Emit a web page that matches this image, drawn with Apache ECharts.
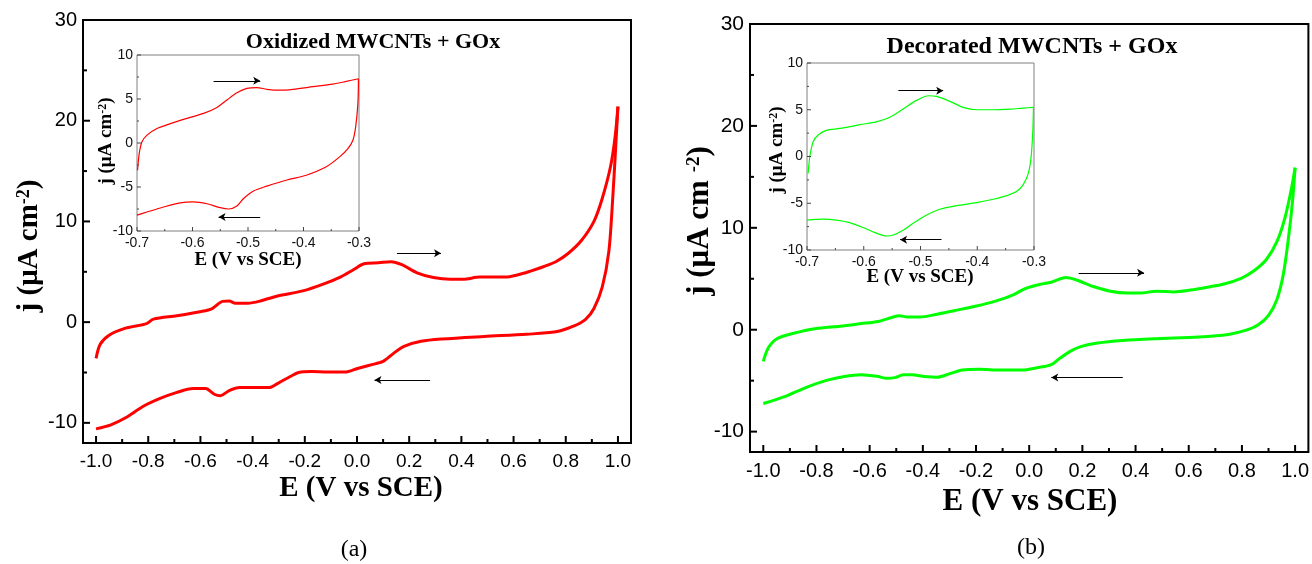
<!DOCTYPE html>
<html>
<head>
<meta charset="utf-8">
<script src="https://cdn.jsdelivr.net/npm/echarts@6/dist/echarts.min.js"></script>
<style>
html,body{margin:0;padding:0;background:#fff;}
#c{width:1312px;height:564px;}
</style>
</head>
<body>
<div id="c"></div>
<script>
// ---------- tick labels / tick positions ----------
const mainXTicks = [-1.0,-0.8,-0.6,-0.4,-0.2,0.0,0.2,0.4,0.6,0.8,1.0];
const mainXMinor = [-0.9,-0.7,-0.5,-0.3,-0.1,0.1,0.3,0.5,0.7,0.9];
const mainYTicks = [-10,0,10,20,30];
const mainYMinor = [-5,5,15,25];
const insetXTicks = [-0.7,-0.6,-0.5,-0.4,-0.3];
const insetXMinor = [-0.65,-0.55,-0.45,-0.35];
const insetYTicks = [-10,-5,0,5,10];
const insetYMinor = [-7.5,-2.5,2.5,7.5];

// ---------- (a) Oxidized MWCNTs + GOx, main ----------
const aFwdE = [-1.0,-0.984,-0.95,-0.887,-0.806,-0.78,-0.69,-0.596,-0.555,-0.515,-0.49,-0.466,-0.418,-0.37,-0.305,-0.208,-0.127,-0.062,-0.014,0.027,0.083,0.13,0.172,0.23,0.293,0.358,0.407,0.47,0.568,0.617,0.665,0.714,0.762,0.81,0.86,0.908,0.94,0.972,0.989,1.0];
const aFwdJ = [-3.6,-2.2,-1.3,-0.6,-0.14,0.3,0.64,1.06,1.35,2.06,2.1,1.88,1.88,2.1,2.6,3.1,3.8,4.5,5.2,5.8,5.9,6.0,5.7,4.9,4.43,4.26,4.26,4.47,4.47,4.7,5.07,5.5,6.0,6.84,8.1,10.0,12.3,15.5,18.4,21.4];
const aRevE = [1.0,0.992,0.98,0.965,0.94,0.908,0.876,0.827,0.762,0.65,0.487,0.326,0.245,0.18,0.14,0.1,0.051,0.002,-0.046,-0.11,-0.175,-0.224,-0.256,-0.305,-0.337,-0.386,-0.45,-0.49,-0.523,-0.547,-0.58,-0.628,-0.693,-0.757,-0.822,-0.887,-0.943,-1.0];
const aRevJ = [21.4,17.7,12.3,7.0,3.5,1.35,0.28,-0.43,-0.96,-1.2,-1.42,-1.67,-1.9,-2.4,-3.1,-3.9,-4.26,-4.6,-4.96,-4.96,-4.9,-5.0,-5.4,-6.1,-6.5,-6.5,-6.5,-6.8,-7.3,-7.16,-6.6,-6.6,-7.0,-7.6,-8.4,-9.5,-10.2,-10.6];

// ---------- (b) Decorated MWCNTs + GOx, main ----------
const bFwdE = [-1.0,-0.981,-0.949,-0.886,-0.806,-0.711,-0.632,-0.568,-0.52,-0.489,-0.457,-0.41,-0.346,-0.283,-0.203,-0.124,-0.06,-0.013,0.035,0.083,0.138,0.178,0.241,0.305,0.368,0.416,0.479,0.543,0.606,0.67,0.733,0.797,0.844,0.892,0.932,0.963,0.987,1.0];
const bFwdJ = [-3.1,-1.77,-0.88,-0.35,0.1,0.35,0.6,0.81,1.17,1.38,1.24,1.24,1.52,1.87,2.3,2.83,3.43,4.06,4.42,4.66,5.12,4.88,4.24,3.78,3.6,3.6,3.78,3.71,3.89,4.17,4.49,5.05,5.76,6.89,8.66,11.1,13.96,15.9];
const bRevE = [1.0,0.99,0.975,0.956,0.932,0.9,0.86,0.813,0.749,0.638,0.479,0.352,0.257,0.194,0.154,0.114,0.083,0.035,-0.029,-0.108,-0.187,-0.251,-0.298,-0.346,-0.394,-0.441,-0.473,-0.505,-0.537,-0.568,-0.632,-0.695,-0.759,-0.838,-0.917,-1.0];
const bRevJ = [15.9,12.5,9.0,5.48,3.0,1.41,0.46,-0.07,-0.46,-0.71,-0.88,-1.06,-1.31,-1.66,-2.12,-2.83,-3.43,-3.71,-3.96,-3.96,-3.89,-3.96,-4.31,-4.66,-4.59,-4.42,-4.42,-4.7,-4.77,-4.59,-4.42,-4.59,-4.95,-5.65,-6.54,-7.24];

// ---------- insets ----------
const iaFwdE = [-0.699,-0.696,-0.691,-0.682,-0.664,-0.64,-0.61,-0.58,-0.556,-0.538,-0.52,-0.502,-0.484,-0.466,-0.443,-0.419,-0.383,-0.347,-0.323,-0.301];
const iaFwdJ = [-3.1,-1.2,0.13,0.9,1.65,2.2,2.8,3.36,4.04,4.88,5.7,6.2,6.3,6.1,6.0,6.1,6.4,6.7,7.0,7.3];
const iaRevE = [-0.301,-0.302,-0.306,-0.311,-0.32,-0.335,-0.359,-0.395,-0.43,-0.466,-0.49,-0.508,-0.52,-0.535,-0.55,-0.574,-0.599,-0.622,-0.652,-0.682,-0.7];
const iaRevJ = [7.3,4.5,1.84,0.32,-0.63,-1.58,-2.7,-3.66,-4.2,-4.9,-5.45,-6.3,-7.15,-7.5,-7.35,-6.9,-6.7,-6.8,-7.27,-7.84,-8.2];
const ibFwdE = [-0.698,-0.695,-0.689,-0.68,-0.666,-0.642,-0.607,-0.578,-0.554,-0.53,-0.507,-0.486,-0.472,-0.448,-0.425,-0.401,-0.372,-0.342,-0.319,-0.301];
const ibFwdJ = [-1.8,0,1.6,2.32,2.8,3.0,3.4,3.7,4.2,5.1,6.0,6.5,6.43,5.9,5.25,5.0,5.0,5.07,5.18,5.25];
const ibRevE = [-0.301,-0.302,-0.305,-0.31,-0.319,-0.331,-0.348,-0.372,-0.401,-0.436,-0.466,-0.489,-0.513,-0.53,-0.548,-0.56,-0.578,-0.601,-0.625,-0.648,-0.672,-0.7];
const ibRevJ = [5.25,2.86,0,-1.8,-3.0,-3.75,-4.18,-4.57,-4.93,-5.25,-5.64,-6.25,-7.14,-7.86,-8.4,-8.5,-8.2,-7.6,-7.07,-6.8,-6.7,-6.8];

// ---------- scan-direction arrows [x1, x2, y] ----------
const aArrows = [[0.153,0.322,6.84],[0.28,0.067,-5.74]];
const bArrows = [[0.186,0.432,5.58],[0.352,0.083,-4.7]];
const iaArrows = [[-0.562,-0.478,7.07],[-0.478,-0.553,-8.4]];
const ibArrows = [[-0.539,-0.46,7.04],[-0.463,-0.536,-8.9]];

const titles = ['Oxidized MWCNTs + GOx','Decorated MWCNTs + GOx'];
const captions = ['(a)','(b)'];

const zip = (xs, ys) => xs.map((x,i)=>[x, ys[i]]);
const SANS = 'Liberation Sans, Arial, sans-serif';
const SERIF = 'Liberation Serif, Times New Roman, serif';

const MAIN_X = [-1.05, 1.05], MAIN_Y = [-12, 30];
const INSET_X = [-0.7, -0.3], INSET_Y = [-10, 10];

function mainX(grid){
  return {
    type:'value', gridIndex:grid, min:MAIN_X[0], max:MAIN_X[1],
    axisLine:{show:false, onZero:false}, splitLine:{show:false}, axisTick:{show:false},
    axisLabel:{customValues:mainXTicks, formatter:v=>v.toFixed(1), color:'#000', fontFamily:SANS, fontSize:grid===0?19:20, margin:9}
  };
}
function mainY(grid){
  return {
    type:'value', gridIndex:grid, min:MAIN_Y[0], max:MAIN_Y[1],
    axisLine:{show:false, onZero:false}, splitLine:{show:false}, axisTick:{show:false},
    axisLabel:{customValues:mainYTicks, color:'#000', fontFamily:SANS, fontSize:grid===0?20:21, margin:6}
  };
}
function insetX(grid){
  return {
    type:'value', gridIndex:grid, min:INSET_X[0], max:INSET_X[1], interval:0.1,
    axisLine:{show:false, onZero:false}, splitLine:{show:false}, axisTick:{show:false},
    axisLabel:{color:'#111', fontFamily:SANS, fontSize:14, margin:5, formatter:v=>v.toFixed(1)}
  };
}
function insetY(grid){
  return {
    type:'value', gridIndex:grid, min:INSET_Y[0], max:INSET_Y[1], interval:5,
    axisLine:{show:false, onZero:false}, splitLine:{show:false}, axisTick:{show:false},
    axisLabel:{color:'#111', fontFamily:SANS, fontSize:14, margin:4}
  };
}
function curve(ai, xs, ys, color, w){
  return {type:'line', xAxisIndex:ai, yAxisIndex:ai, data:zip(xs,ys), showSymbol:false,
    smooth:0.3, lineStyle:{color:color, width:w}, clip:false, silent:true};
}
function arrows(ai, arr){
  return {type:'line', xAxisIndex:ai, yAxisIndex:ai, data:[], silent:true,
    markLine:{silent:true, symbol:['none','arrow'], symbolSize:[6,7], label:{show:false},
      lineStyle:{color:'#000', width:1, type:'solid'}, animation:false,
      data: arr.map(a=>[{coord:[a[0],a[2]]},{coord:[a[1],a[2]]}])}};
}
function txt(x, y, text, font, rot, rich){
  const el = {type:'text', x:x, y:y, rotation:rot||0, z:100,
    style:{text:text, font:font, fill:'#000', align:'center', verticalAlign:'middle'}};
  if (rich) el.style.rich = rich;
  return el;
}
function yTitleRich(size, supSize){
  return {m:{fontFamily:SERIF, fontWeight:'bold', fontSize:size, fill:'#000'},
          s:{fontFamily:SERIF, fontWeight:'bold', fontSize:supSize, fill:'#000', verticalAlign:'top'}};
}

const RED = '#ff0000', GREEN = '#00ff00';
const rectGrid = (l,t,w,h, color, bw) => ({left:l, top:t, width:w, height:h, show:true, borderColor:color, borderWidth:bw});

const texts = [
  txt(373, 42, titles[0], 'bold 22px '+SERIF),
  txt(1032, 47, titles[1], 'bold 24px '+SERIF),
  txt(361, 489, 'E (V vs SCE)', 'bold 29px '+SERIF),
  txt(1030, 502, 'E (V vs SCE)', 'bold 31px '+SERIF),
  txt(30, 246, '{m|j (μA cm}{s|-2}{m|)}', 'bold 29px '+SERIF, Math.PI/2, yTitleRich(29,18)),
  txt(700, 221, '{m|j (μA cm }{s|-2}{m|)}', 'bold 31px '+SERIF, Math.PI/2, yTitleRich(31,19)),
  txt(248, 260, 'E (V vs SCE)', 'bold 19px '+SERIF),
  txt(920, 277, 'E (V vs SCE)', 'bold 19px '+SERIF),
  txt(106, 141, '{m|j (μA cm}{s|-2}{m|)}', 'bold 19px '+SERIF, Math.PI/2, yTitleRich(19,12)),
  txt(777, 150, '{m|j (μA cm}{s|-2}{m|)}', 'bold 19px '+SERIF, Math.PI/2, yTitleRich(19,12)),
  txt(354, 550, captions[0], '24px '+SERIF),
  txt(1031, 548, captions[1], '24px '+SERIF)
];

const option = {
  animation:false,
  grid:[
    rectGrid(83,20,548,423, '#000', 2),
    rectGrid(750,24,559,428, '#000', 2),
    rectGrid(137,55,222,176, '#808080', 1),
    rectGrid(807,63,227,187, '#808080', 1)
  ],
  xAxis:[mainX(0), mainX(1), insetX(2), insetX(3)],
  yAxis:[mainY(0), mainY(1), insetY(2), insetY(3)],
  series:[
    curve(0,aFwdE,aFwdJ,RED,3), curve(0,aRevE,aRevJ,RED,3),
    curve(1,bFwdE,bFwdJ,GREEN,3), curve(1,bRevE,bRevJ,GREEN,3),
    curve(2,iaFwdE,iaFwdJ,RED,1.2), curve(2,iaRevE,iaRevJ,RED,1.2),
    curve(3,ibFwdE,ibFwdJ,GREEN,1.2), curve(3,ibRevE,ibRevJ,GREEN,1.2),
    arrows(0,aArrows), arrows(1,bArrows), arrows(2,iaArrows), arrows(3,ibArrows)
  ],
  graphic:{elements:texts}
};
const chart = echarts.init(document.getElementById('c'));
chart.setOption(option);

// Inward tick marks: positions come from the tick arrays, mapped to pixels by the chart's own axes.
function tickEls(gi, xr, yr, xMaj, xMin, yMaj, yMin, lMaj, lMin, color, w){
  const els = [];
  const toPx = d => chart.convertToPixel({gridIndex:gi}, d);
  const seg = (x1,y1,x2,y2) => els.push({type:'line', z:120, silent:true,
    shape:{x1:x1,y1:y1,x2:x2,y2:y2}, style:{stroke:color, lineWidth:w}});
  xMaj.forEach(v=>{ const p = toPx([v, yr[0]]); seg(p[0], p[1], p[0], p[1]-lMaj); });
  xMin.forEach(v=>{ const p = toPx([v, yr[0]]); seg(p[0], p[1], p[0], p[1]-lMin); });
  yMaj.forEach(v=>{ const p = toPx([xr[0], v]); seg(p[0], p[1], p[0]+lMaj, p[1]); });
  yMin.forEach(v=>{ const p = toPx([xr[0], v]); seg(p[0], p[1], p[0]+lMin, p[1]); });
  return els;
}
const tickGraphics = [].concat(
  tickEls(0, MAIN_X, MAIN_Y, mainXTicks, mainXMinor, mainYTicks, mainYMinor, 7, 4, '#000', 2),
  tickEls(1, MAIN_X, MAIN_Y, mainXTicks, mainXMinor, mainYTicks, mainYMinor, 7, 4, '#000', 2),
  tickEls(2, INSET_X, INSET_Y, insetXTicks, insetXMinor, insetYTicks, insetYMinor, 4, 2, '#444', 1),
  tickEls(3, INSET_X, INSET_Y, insetXTicks, insetXMinor, insetYTicks, insetYMinor, 4, 2, '#444', 1)
);
chart.setOption({graphic:{elements:texts.concat(tickGraphics)}});
</script>
</body>
</html>
